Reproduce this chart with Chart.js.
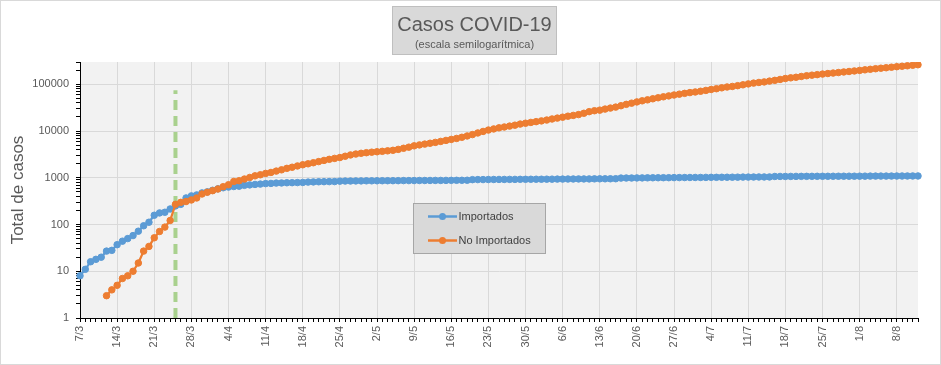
<!DOCTYPE html>
<html><head><meta charset="utf-8">
<script src="https://cdn.jsdelivr.net/npm/chart.js@4/dist/chart.umd.min.js"></script>
<style>html,body{margin:0;padding:0;background:#fff}#wrap{width:941px;height:365px;position:relative}</style>
</head><body><div id="wrap"><canvas id="c" width="941" height="365"></canvas></div>
<script>
// ---- data ----
const tickLabels = ['7/3','14/3','21/3','28/3','4/4','11/4','18/4','25/4','2/5','9/5','16/5','23/5','30/5','6/6','13/6','20/6','27/6','4/7','11/7','18/7','25/7','1/8','8/8'];
const yTickLabels = [1, 10, 100, 1000, 10000, 100000];
const importados = [
  8,11,16,18,20,27,28,37,44,50,
  58,72,94,112,158,177,183,215,250,270,
  370,410,430,475,500,540,580,612,633,650,
  660,688,705,720,733,750,757,771,775,783,
  786,790,795,809,815,822,825,828,830,848,
  852,853,857,858,861,861,863,865,866,867,
  868,871,871,872,875,875,876,878,878,880,
  881,883,884,886,912,914,915,918,920,921,
  922,924,924,927,928,930,931,931,934,935,
  937,938,941,942,944,945,945,948,950,951,
  952,955,985,988,989,993,995,997,1000,1002,
  1004,1005,1008,1010,1011,1014,1016,1017,1020,1022,
  1023,1026,1028,1029,1032,1034,1035,1038,1040,1041,
  1042,1066,1068,1068,1070,1071,1072,1073,1074,1075,
  1076,1076,1078,1079,1080,1081,1081,1083,1084,1085,
  1086,1087,1087,1089,1090,1091,1092,1093,1094
];
const noImportados = [
  null,null,null,null,null,
  3,4,5,7,8,10,15,27,34,52,71,88,122,
  270,298,310,335,370,450,490,530,575,645,710,835,
  865,940,1015,1100,1160,1240,1300,1390,1480,1590,1680,1790,
  1900,1990,2100,2220,2350,2480,2600,2710,2890,3080,3220,3340,
  3440,3530,3600,3680,3770,3870,4050,4280,4520,4820,5050,5250,
  5480,5720,6000,6300,6620,6950,7350,7850,8400,9100,9800,10500,
  11100,11700,12200,12750,13350,14100,14700,15300,15900,16500,17200,18100,
  18900,19800,20800,21600,22500,24000,26000,27200,
  28000,29500,31000,32500,34800,37200,39500,42000,44300,46500,
  49000,51500,54000,56500,59000,61500,64000,66500,68500,71000,
  74000,77500,80500,84000,87500,90000,93500,97500,102000,106000,
  109500,112500,117000,121500,127000,133000,137500,141500,147000,152500,
  157000,161000,165500,170000,174000,178500,183500,188000,193000,198500,
  204000,209500,215500,221000,226000,232000,238000,243500,249000,255500,
  262000
];
const markerDay = '25/3';
const markerValues = [1, 75000];
const seriesNames = ['Importados', 'No Importados'];
const titleText = 'Casos COVID-19';
const subtitleText = '(escala semilogarítmica)';
const yTitle = 'Total de casos';

// ---- derived categories / ticks ----
const days = [];
for (let i = 0; i < importados.length; i++) {
  const d = new Date(2020, 2, 7 + i);
  days.push(d.getDate() + '/' + (d.getMonth() + 1));
}
const yTicks = [];
for (let k = 0; k <= 5; k++) for (let m = 1; m <= 9; m++) { const v = m * Math.pow(10, k); if (v <= 300000) yTicks.push(v); }

const BLUE = '#5b9bd5', ORANGE = '#ed7d31', GREEN = '#a9d18e';
Chart.defaults.font.family = "'Liberation Sans', Arial, sans-serif";

const deco = {
  id: 'deco',
  beforeDraw(chart) {
    const {ctx, chartArea: a} = chart;
    ctx.save();
    ctx.fillStyle = '#fff';
    ctx.fillRect(0, 0, chart.width, chart.height);
    ctx.fillStyle = '#f2f2f2';
    ctx.fillRect(a.left, a.top, a.right - a.left, a.bottom - a.top);
    ctx.restore();
  },
  afterDraw(chart) {
    const ctx = chart.ctx;
    ctx.save();
    // outer border
    ctx.strokeStyle = '#d9d9d9'; ctx.lineWidth = 1;
    ctx.strokeRect(0.5, 0.5, chart.width - 1, chart.height - 1);
    // title box
    ctx.fillStyle = '#d9d9d9';
    ctx.fillRect(392.5, 6.5, 164, 48);
    ctx.strokeStyle = '#bfbfbf';
    ctx.strokeRect(392.5, 6.5, 164, 48);
    ctx.fillStyle = '#595959';
    ctx.textAlign = 'center'; ctx.textBaseline = 'alphabetic';
    ctx.font = "20px 'Liberation Sans', Arial, sans-serif";
    ctx.fillText(titleText, 474.5, 31);
    ctx.font = "11px 'Liberation Sans', Arial, sans-serif";
    ctx.fillText(subtitleText, 474.5, 48);
    // legend box
    ctx.fillStyle = '#d9d9d9';
    ctx.fillRect(413.5, 203.5, 132, 50);
    ctx.strokeStyle = '#a6a6a6';
    ctx.strokeRect(413.5, 203.5, 132, 50);
    const rows = [[seriesNames[0], BLUE, 216.5], [seriesNames[1], ORANGE, 240.5]];
    ctx.textAlign = 'left'; ctx.textBaseline = 'middle';
    ctx.font = "11px 'Liberation Sans', Arial, sans-serif";
    rows.forEach(([t, c, y]) => {
      ctx.strokeStyle = c; ctx.lineWidth = 2.5;
      ctx.beginPath(); ctx.moveTo(428, y); ctx.lineTo(457, y); ctx.stroke();
      ctx.fillStyle = c;
      ctx.beginPath(); ctx.arc(442.5, y, 3.5, 0, Math.PI * 2); ctx.fill();
      ctx.fillStyle = '#404040';
      ctx.fillText(t, 458.5, y + 0.5);
    });
    ctx.restore();
  }
};

new Chart(document.getElementById('c'), {
  type: 'line',
  data: {
    labels: days,
    datasets: [
      { label: seriesNames[1], data: noImportados, borderColor: ORANGE, backgroundColor: ORANGE,
        borderWidth: 2.25, pointRadius: 3.25, pointBorderWidth: 1, pointBackgroundColor: ORANGE, pointBorderColor: ORANGE, order: 0 },
      { label: seriesNames[0], data: importados, borderColor: BLUE, backgroundColor: BLUE,
        borderWidth: 2.25, pointRadius: 3.25, pointBorderWidth: 1, pointBackgroundColor: BLUE, pointBorderColor: BLUE, order: 1 },
      { label: 'marca', data: [{x: markerDay, y: markerValues[0]}, {x: markerDay, y: markerValues[1]}],
        borderColor: GREEN, borderWidth: 4, borderDash: [10, 6], pointRadius: 0, order: 2 }
    ]
  },
  options: {
    responsive: false, animation: false, devicePixelRatio: 1,
    layout: { padding: { top: 62, right: 23, left: 0, bottom: 0 } },
    plugins: { legend: { display: false }, tooltip: { enabled: false }, title: { display: false } },
    scales: {
      x: {
        type: 'category', offset: false,
        grid: { offset: false, color: ctx => (ctx.index % 7 === 0) ? '#d9d9d9' : 'rgba(0,0,0,0)', tickColor: '#000', tickLength: 4, lineWidth: 1 },
        border: { color: '#000', width: 1 },
        ticks: { autoSkip: false, maxRotation: 90, minRotation: 90, padding: 4, color: '#595959', font: { size: 11 },
          callback: (v, i) => tickLabels.includes(days[i]) && i % 7 === 0 ? days[i] : '' },
        afterFit: s => { s.height = 47; }
      },
      y: {
        type: 'logarithmic', min: 1, max: 300000,
        afterBuildTicks: s => { s.ticks = yTicks.map(v => ({ value: v })); },
        grid: { color: ctx => (ctx.tick && yTickLabels.includes(ctx.tick.value)) ? '#d9d9d9' : 'rgba(0,0,0,0)', tickColor: '#000', tickLength: 4 },
        border: { color: '#000', width: 1 },
        ticks: { autoSkip: false, padding: 7, color: '#595959', font: { size: 11 },
          callback: v => yTickLabels.includes(v) ? String(v) : '' },
        title: { display: true, text: yTitle, color: '#595959', font: { size: 17 }, padding: { top: 8, bottom: 0 } },
        afterFit: s => { s.width = 80; }
      }
    }
  },
  plugins: [deco]
});
</script>
</body></html>
